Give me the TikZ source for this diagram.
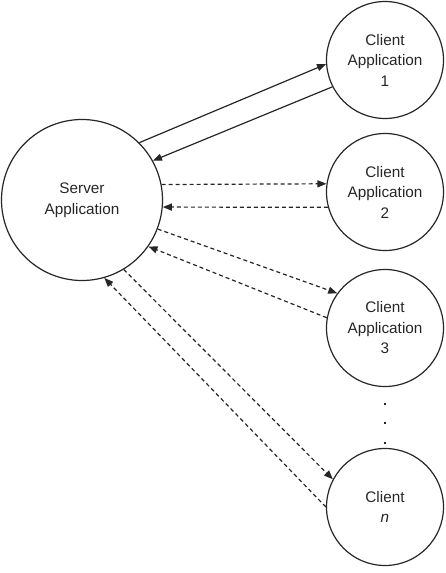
\documentclass[tikz,border=0pt]{standalone}
\usepackage{fontspec}
\setmainfont{Liberation Sans}
\usetikzlibrary{arrows.meta}
\begin{document}
\begin{tikzpicture}[x=1pt,y=-1pt,
  every node/.style={font=\fontsize{15.3}{20.5}\selectfont, text=black!85},
  proc/.style={circle, draw=black!85, line width=1.2pt, inner sep=0pt, align=center},
  srv/.style={proc, minimum size=161pt},
  cli/.style={proc, minimum size=117pt},
  link/.style={draw=black!85, line width=1.2pt, -{Triangle[length=9pt,width=7pt]}},
  dlink/.style={link, dash pattern=on 4pt off 3pt}]
\useasboundingbox (0,0) rectangle (445,573);
\node[srv] (S) at (82,200) {Server\\Application};
\node[cli] (C1) at (385,60) {Client\\Application\\1};
\node[cli] (C2) at (385,192) {Client\\Application\\2};
\node[cli] (C3) at (385,328) {Client\\Application\\3};
\node[cli] (Cn) at (385,507) {Client\\\textit{n}};
% solid pair
\draw[link] (S.45) -- (C1.184);
\draw[link] (C1.207) -- (S.29);
% dashed pairs
\draw[dlink] (S.11.4) -- (C2.172.2);
\draw[dlink] (C2.195.7) -- (S.-5.7);
\draw[dlink] (S.-21) -- (C3.144.7);
\draw[dlink] (C3.170.2) -- (S.-35.8);
\draw[dlink] (S.-59) -- (Cn.152.6);
\draw[dlink] (Cn.180) -- (S.-74.3);
% ellipsis dots
\foreach \yy in {403,422,442}
  \fill[black!85] (384,\yy) rectangle (386.2,\yy+2.2);
\end{tikzpicture}
\end{document}
